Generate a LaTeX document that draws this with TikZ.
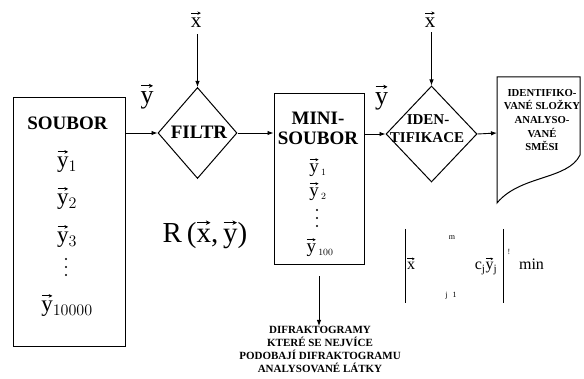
\RequirePackage{fix-cm}
\documentclass[tikz,border=0pt]{standalone}
\usepackage{fontspec}
\setmainfont{Liberation Serif}
\usetikzlibrary{shapes.geometric,arrows.meta}
% upright letter with a thin vector arrow drawn above it
\newcommand\vv[1]{\mbox{\ooalign{\rmfamily #1\cr\hidewidth\tikz[baseline=0pt]{\draw[line width=0.04em,-{Stealth[length=0.16em,width=0.16em]}] (0,0.7em) -- (0.46em,0.7em);}\hidewidth\cr}}}
\newcommand\fs[2]{\fontsize{#1}{#2}\selectfont}
\begin{document}
\begin{tikzpicture}[x=1pt,y=-1pt,
  frame/.style={draw,line width=1pt,inner sep=0pt},
  gate/.style={draw,line width=1pt,diamond,inner sep=0pt},
  arr/.style={line width=0.9pt,-{Latex[length=6pt,width=4.5pt]}},
  plain/.style={line width=1pt},
  dot/.style={fill,circle,inner sep=0pt,minimum size=2.4pt},
  head/.style={font=\fs{19}{21}\bfseries,inner sep=0pt},
  tag/.style={font=\fs{15}{18}\bfseries,inner sep=0pt,align=center},
  note/.style={font=\fs{10.7}{13.6}\bfseries,inner sep=0pt,align=center},
  foot/.style={font=\fs{11}{13}\bfseries,inner sep=0pt,align=center},
  vecbig/.style={font=\fs{23}{25},inner sep=0pt},
  vecmid/.style={font=\fs{19}{21},inner sep=0pt},
  sym/.style={font=\fs{21}{23},inner sep=0pt},
  lab/.style={font=\fs{26}{28},inner sep=0pt},
  rel/.style={font=\fs{29}{31},inner sep=0pt},
  tiny/.style={font=\fs{8}{9},inner sep=0pt},
  eq/.style={font=\fs{16}{18},inner sep=0pt}
]
\useasboundingbox (0,0) rectangle (584,379);

% main blocks
\node[frame,minimum width=112pt,minimum height=249pt] (soubor) at (69,222.5) {};
\node[frame,minimum width=90pt,minimum height=171pt] (mini) at (319,179.5) {};
\node[gate,minimum width=79pt,minimum height=91pt] (filtr) at (197.5,133) {};
\node[gate,minimum width=91pt,minimum height=96pt] (ident) at (431.5,134) {};

% result document with wavy lower edge
\draw[plain] (497,77) -- (580,77) -- (580,155)
  .. controls (568,180) and (520,175) .. (497,203) -- cycle;
\coordinate (docin) at (497,133);

% texts of the large set
\node[head,anchor=base] (tsoubor) at (67.5,130) {SOUBOR};
\node[vecbig,anchor=base] (sy1) at (67,168) {$\vv{y}_{1}$};
\node[vecbig,anchor=base] (sy2) at (67,205) {$\vv{y}_{2}$};
\node[vecbig,anchor=base] (sy3) at (67,243) {$\vv{y}_{3}$};
\foreach \k/\yy in {1/259,2/267,3/275} \node[dot] (sd\k) at (66,\yy) {};
\node[vecbig,anchor=base] (sy4) at (67,312) {$\vv{y}_{10000}$};

% filter
\node[head,anchor=base] (tfiltr) at (199,139) {FILTR};
\node[rel,anchor=base] (relxy) at (205,243) {R\,(\vv{x},\,\vv{y})};

% reduced set
\node[head,anchor=base] (tmini1) at (318,125) {MINI-};
\node[head,anchor=base] (tmini2) at (318,145) {SOUBOR};
\node[vecmid,anchor=base] (my1) at (318,173) {$\vv{y}_{\,\scriptscriptstyle 1}$};
\node[vecmid,anchor=base] (my2) at (318,197) {$\vv{y}_{\,\scriptscriptstyle 2}$};
\foreach \k/\yy in {1/210,2/218,3/226} \node[dot] (md\k) at (317,\yy) {};
\node[vecmid,anchor=base] (my3) at (320,253) {$\vv{y}_{\,\scriptscriptstyle 100}$};

% identification
\node[tag,anchor=base] (tid1) at (428,125) {IDEN-};
\node[tag,anchor=base] (tid2) at (427,143) {TIFIKACE};

% document text
\node[note,anchor=north] (tdoc) at (542,89)
  {IDENTIFIKO-\\VANÉ SLOŽKY\\ANALYSO-\\VANÉ\\SMĚSI};

% inputs
\node[sym] (xf) at (196,23) {\vv{x}};
\node[sym] (xi) at (430,23) {\vv{x}};
\node[lab,anchor=base] (yf) at (147,104) {\vv{y}};
\node[lab,anchor=base] (yi) at (381.5,105) {\vv{y}};

% output caption
\node[foot,anchor=north] (tfoot) at (320,326)
  {DIFRAKTOGRAMY\\KTERÉ SE NEJVÍCE\\PODOBAJÍ DIFRAKTOGRAMU\\ANALYSOVANÉ LÁTKY};

% connectors
\draw[arr] (xf.south -| filtr.north) ++(0,6) -- (filtr.north);
\draw[arr] (xi.south -| ident.north) ++(0,4) -- (ident.north);
\draw[arr] (filtr.west -| soubor.east) -- (filtr.west);
\draw[arr] (filtr.east) -- (filtr.east -| mini.west);
\draw[arr] (ident.west -| mini.east) -- (ident.west);
\draw[arr] (ident.east) -- (docin);
\draw[arr,shorten <=11pt] (mini.south) -- (mini.south |- tfoot.north);

% criterion
\draw[plain] (405,229) -- (405,303);
\draw[plain] (503,229) -- (503,303);
\node[eq,anchor=base] (fx) at (411,270) {\vv{x}};
\node[tiny] (fm) at (452,238) {m};
\node[tiny] (fj) at (451,296) {j\hspace{5pt}1};
\node[eq,anchor=base] (fc) at (486,270) {c$_{\mathrm{j}}$\vv{y}$_{\mathrm{j}}$};
\node[tiny] (fex) at (509,252) {!};
\node[eq,anchor=base] (fmin) at (531.5,270) {min};
\end{tikzpicture}
\end{document}
